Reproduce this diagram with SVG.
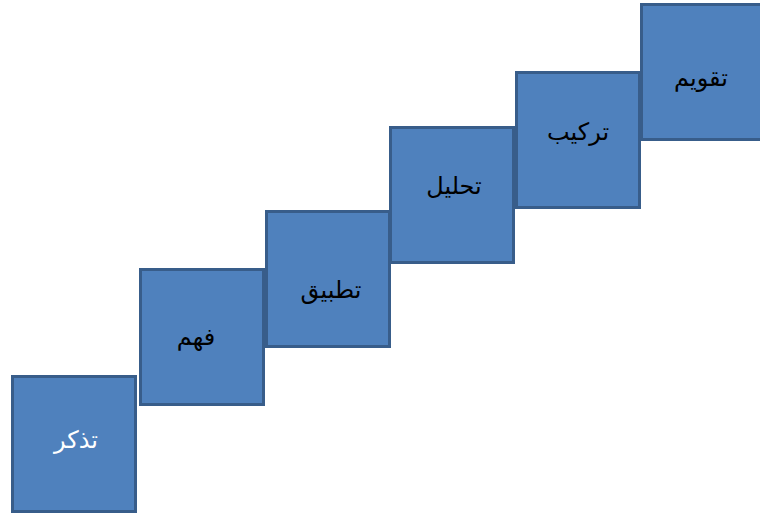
<svg xmlns="http://www.w3.org/2000/svg" width="760" height="513" viewBox="0 0 760 513">
<style>
.box{fill:#4f81bd;stroke:#385d8a;stroke-width:3}
.t{font-family:"DejaVu Sans","Liberation Sans",sans-serif;font-size:24px;text-anchor:middle;dominant-baseline:central;fill:#000}
.w{fill:#fff}
</style>
<rect width="760" height="513" fill="#fff"/>
<g id="n1"><rect class="box" x="12.5" y="376.5" width="123" height="135"/><text class="t w" x="76" y="440">تذكر</text></g>
<g id="n2"><rect class="box" x="140.5" y="269.5" width="123" height="135"/><text class="t" x="196" y="337">فهم</text></g>
<g id="n3"><rect class="box" x="266.5" y="211.5" width="123" height="135"/><text class="t" x="331" y="290">تطبيق</text></g>
<g id="n4"><rect class="box" x="390.5" y="127.5" width="123" height="135"/><text class="t" x="454" y="186">تحليل</text></g>
<g id="n5"><rect class="box" x="516.5" y="72.5" width="123" height="135"/><text class="t" x="578" y="132">تركيب</text></g>
<g id="n6"><rect class="box" x="641.5" y="4.5" width="123" height="135"/><text class="t" x="701" y="78">تقويم</text></g>
<g id="connectors"/>
</svg>
